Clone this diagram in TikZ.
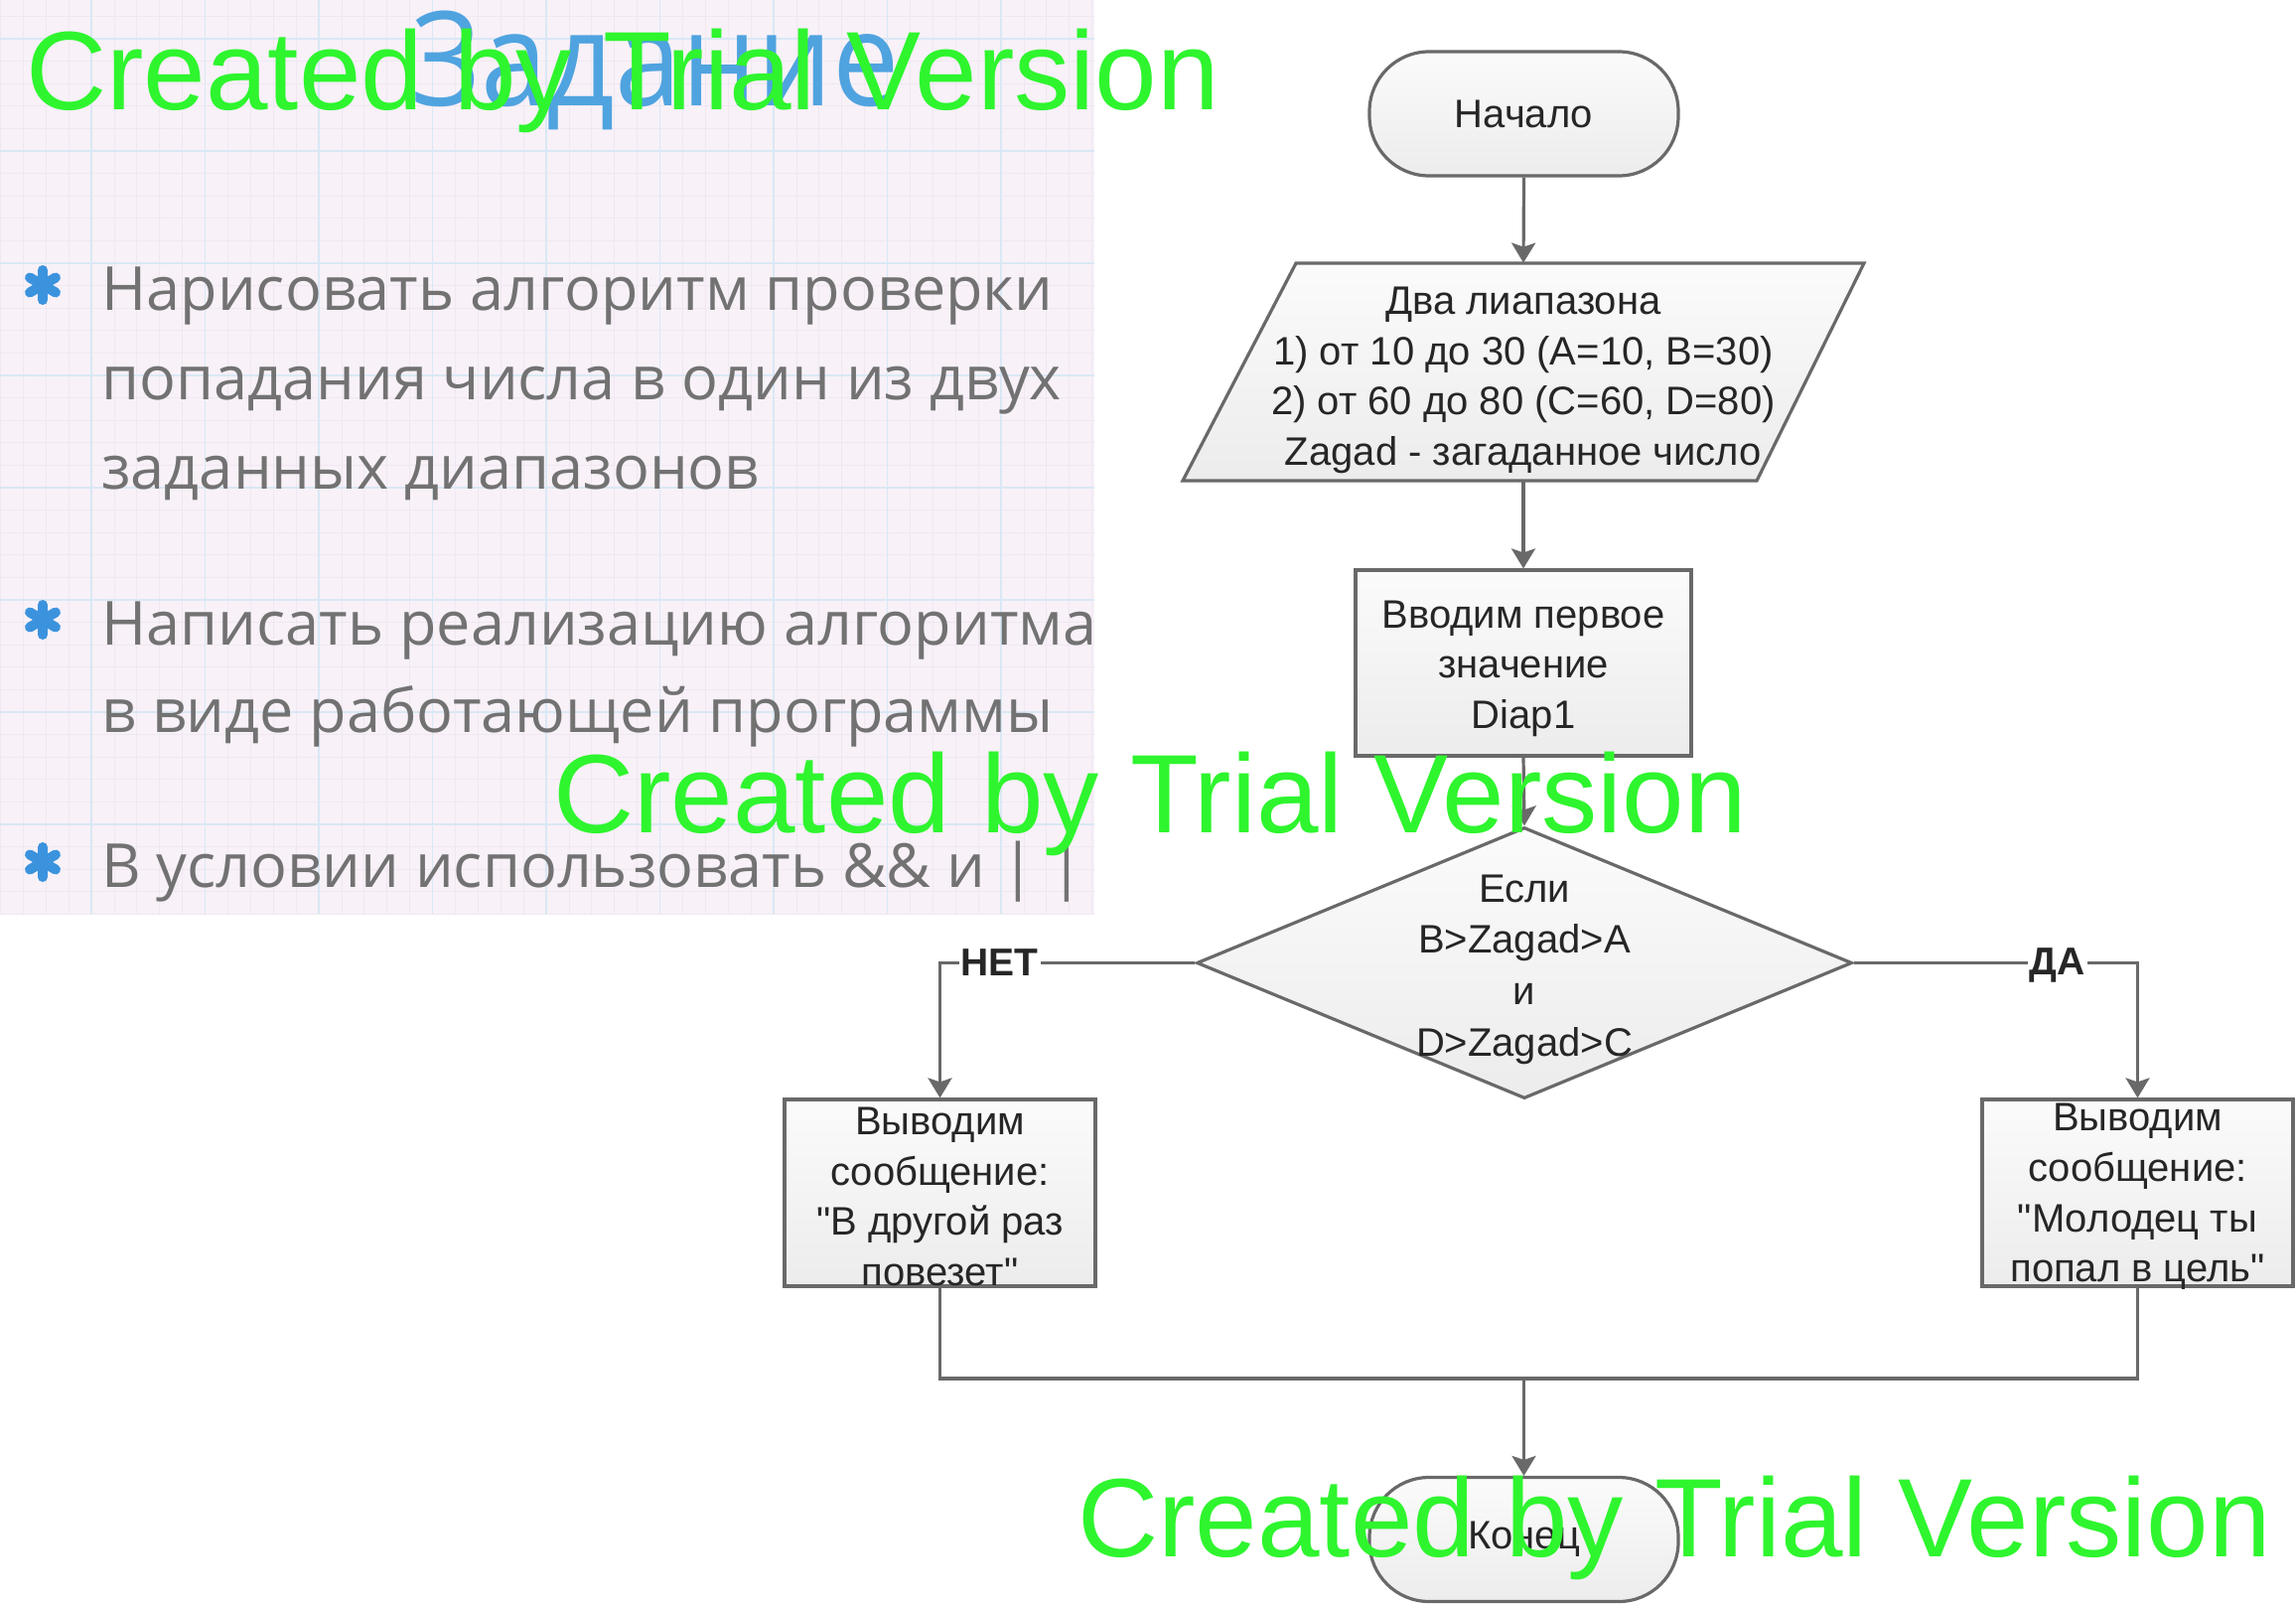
\documentclass[tikz,border=0pt]{standalone}
\usepackage{fontspec}
\setmainfont{Liberation Sans}
\newfontfamily\fcfont{Liberation Sans}
\newfontfamily\osans{Open Sans}
\usetikzlibrary{arrows.meta,shapes.geometric}
\definecolor{slidebg}{HTML}{F8F1F8}
\definecolor{minorgrid}{HTML}{F0E8F1}
\definecolor{majorgrid}{HTML}{D9E8F5}
\definecolor{titleblue}{HTML}{4FA3DF}
\definecolor{bodygray}{HTML}{727272}
\definecolor{bulletblue}{HTML}{3B93DE}
\definecolor{lineg}{HTML}{696969}
\definecolor{txtc}{HTML}{262626}
\definecolor{wmgreen}{HTML}{2EF52E}
\definecolor{fillTop}{HTML}{FBFBFB}
\definecolor{fillBot}{HTML}{ECECEC}
\begin{document}
\begin{tikzpicture}[x=0.5pt,y=-0.5pt,
  shapebox/.style={draw=lineg, line width=1.6pt, top color=fillTop, bottom color=fillBot, inner sep=0pt},
  procbox/.style={shapebox, rectangle},
  termbox/.style={shapebox, rectangle, rounded corners=30pt, minimum width=155.5pt, minimum height=62.5pt},
  fctext/.style={font=\fcfont\fontsize{20}{25.3}\selectfont, text=txtc, align=center, inner sep=0pt},
  conn/.style={draw=lineg, line width=1.6pt},
  arr/.style={conn, -{Stealth[length=10pt,width=12pt,inset=2pt]}},
  lbl/.style={font=\fcfont\bfseries\fontsize{19.5}{22}\selectfont, text=txtc, fill=white, inner xsep=1pt, inner ysep=2pt},
  body/.style={font=\osans\fontsize{30.6}{38}\selectfont, text=bodygray, anchor=base west, inner sep=0pt},
  wmark/.style={font=\fontsize{56.2}{60}\selectfont, text=wmgreen, anchor=base west, inner sep=0pt},
  astr/.pic={\foreach \a in {90,30,150}{\draw[bulletblue, line width=5pt, line cap=round] (\a:15) -- (\a+180:15);}}
]
\useasboundingbox (0,0) rectangle (2312,1616);
\fill[white] (0,0) rectangle (2312,1616);

% ---- slide inset ----
\begin{scope}
\clip (0,0) rectangle (1102,920);
\fill[slidebg] (0,0) rectangle (1102,920);
\foreach \i in {0,...,50} {\draw[minorgrid, line width=0.4pt] ({-22.5+22.9*\i},0) -- ++(0,920);}
\foreach \i in {0,...,45} {\draw[minorgrid, line width=0.4pt] (0,{-74+22.6*\i}) -- ++(1102,0);}
\foreach \i in {0,...,10} {\draw[majorgrid, line width=0.8pt] ({-22.5+114.5*\i},0) -- ++(0,920);}
\foreach \i in {0,...,8} {\draw[majorgrid, line width=0.8pt] (0,{39+113*\i}) -- ++(1102,0);}
\node[font=\osans\fontsize{66}{70}\selectfont, text=titleblue, anchor=base west, inner sep=0pt] (title) at (414,107) {\scalebox{0.91}[1]{Задание}};
\pic at (43,287) {astr};
\pic at (43,624) {astr};
\pic at (43,868) {astr};
\node[body] (b1) at (102,312) {Нарисовать алгоритм проверки};
\node[body] (b2) at (102,402) {попадания числа в один из двух};
\node[body] (b3) at (102,492) {заданных диапазонов};
\node[body] (b4) at (102,649) {Написать реализацию алгоритма};
\node[body] (b5) at (102,737) {в виде работающей программы};
\node[body] (b6) at (102,893) {В условии использовать \&\& и | |};
\end{scope}

% ---- flowchart ----
\node[termbox] (start) at (1534.5,114.5) {};
\node[fctext] (starttxt) at (start) {Начало};

\path[draw=lineg, line width=1.6pt, top color=fillTop, bottom color=fillBot]
  (1305,265) -- (1877,265) -- (1769,484) -- (1191,484) -- cycle;
\node[rectangle, minimum width=200pt, minimum height=109.5pt, inner sep=0pt] (par) at (1534,374.5) {};
\node[fctext] (partxt) at (1534,383) {Два лиапазона\\1) от 10 до 30 (A=10, B=30)\\2) от 60 до 80 (C=60, D=80)\\Zagad - загаданное число};

\node[procbox, minimum width=169pt, minimum height=93.5pt] (inp) at (1534,667.5) {};
\node[fctext] (inptxt) at (1534,673) {Вводим первое\\значение\\Diap1};

\node[shapebox, diamond, minimum width=330pt, minimum height=136.5pt] (dia) at (1535,969.5) {};
\node[fctext, font=\fcfont\fontsize{20}{25.8}\selectfont] (diatxt) at (1535,976) {Если\\B>Zagad>A\\и\\D>Zagad>C};

\node[procbox, minimum width=156.5pt, minimum height=94pt] (nobox) at (946.5,1201) {};
\node[fctext] (notxt) at (946.5,1205) {Выводим\\сообщение:\\"В другой раз\\повезет"};

\node[procbox, minimum width=156.5pt, minimum height=94pt] (yesbox) at (2152.5,1201) {};
\node[fctext] (yestxt) at (2152.5,1205) {Выводим\\сообщение:\\"Молодец ты\\попал в цель"};

\node[termbox] (stop) at (1534.5,1550) {};
\node[fctext] (stoptxt) at (stop) {Конец};

\coordinate (m) at (1534.5,1388);

\draw[arr] (start.south) -- (par.north);
\draw[arr] (par.south) -- (inp.north);
\draw[arr] (inp.south) -- (dia.north);
\draw[arr] (dia.west) -| node[lbl, pos=0.383] (no) {НЕТ} (nobox.north);
\draw[arr] (dia.east) -| node[lbl, pos=0.359, yshift=-1pt] (yes) {ДА} (yesbox.north);
\draw[conn] (nobox.south) |- (m) -| (yesbox.south);
\draw[arr] (m) -- (stop.north);

% ---- watermarks ----
\node[wmark] (wm1) at (26,111) {Created by Trial Version};
\node[wmark] (wm2) at (557,838) {Created by Trial Version};
\node[wmark] (wm3) at (1085,1567) {Created by Trial Version};
\end{tikzpicture}
\end{document}
